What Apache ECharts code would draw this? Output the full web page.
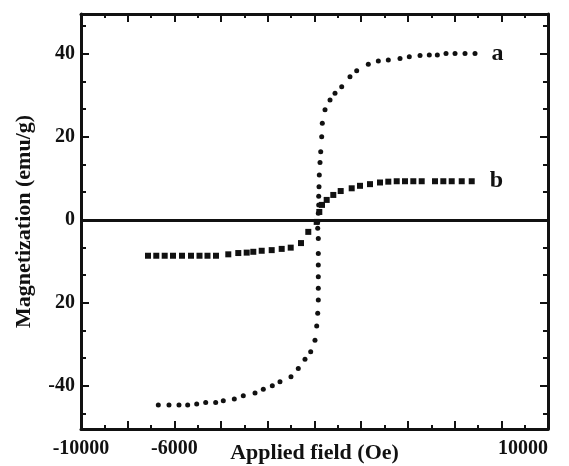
<!DOCTYPE html>
<html><head><meta charset="utf-8">
<script src="https://cdn.jsdelivr.net/npm/echarts@6/dist/echarts.min.js"></script>
<style>html,body{margin:0;padding:0;background:#fff}#c{width:569px;height:466px}</style>
</head><body><div id="c"></div>
<script>
// Curve a (circles)
const aField = [-6690,-6232,-5803,-5431,-5045,-4660,-4232,-3906,-3435,-3050,-2548,-2193,-1807,-1478,-1007,-694,-407,-163,21,94,137,163,163,163,163,163,163,137,137,163,180,180,193,206,236,266,308,334,450,664,878,1165,1520,1807,2304,2733,3161,3662,4060,4519,4917,5260,5632,6018,6446,6874];
const aMag = [-44.6,-44.6,-44.6,-44.6,-44.4,-44.0,-44.0,-43.6,-43.2,-42.4,-41.7,-40.8,-40.0,-39.0,-37.8,-35.8,-33.6,-31.8,-29.0,-25.6,-22.5,-19.3,-16.5,-13.7,-10.9,-8.1,-4.5,-2.0,-0.5,1.6,3.6,5.7,8.0,10.8,13.8,16.4,20.0,23.3,26.5,28.9,30.5,32.1,34.5,35.9,37.5,38.3,38.5,38.9,39.3,39.6,39.7,39.7,40.1,40.1,40.1,40.1];
// Curve b (squares)
const bField = [-7131,-6776,-6416,-6060,-5675,-5290,-4925,-4583,-4219,-3692,-3264,-2904,-2621,-2261,-1833,-1405,-1019,-578,-266,94,206,321,522,805,1122,1593,1949,2377,2805,3161,3521,3876,4232,4591,5161,5517,5876,6305,6733];
const bMag = [-8.65,-8.65,-8.65,-8.65,-8.65,-8.65,-8.65,-8.65,-8.65,-8.31,-8.0,-7.9,-7.7,-7.45,-7.3,-7.0,-6.7,-5.6,-2.9,-0.5,1.9,3.6,4.8,6.0,6.94,7.6,8.2,8.6,9.0,9.2,9.3,9.3,9.3,9.3,9.3,9.3,9.3,9.3,9.3];
const seriesNames = ['a', 'b'];
const xShownTicks = [-10000, -6000, 10000];
const yMajorTicks = [-40, -20, 0, 20, 40];
const yTickLabels = ['-40', '20', '0', '20', '40'];
const yMinorTicks = [-46.667, -33.333, -26.667, -13.333, -6.667, 6.667, 13.333, 26.667, 33.333, 46.667];
const xTitle = 'Applied field (Oe)';
const yTitle = 'Magnetization (emu/g)';

const FONT = '"Liberation Serif", "DejaVu Serif", serif';
const INK = '#111';
const YMIN = -50.4, YMAX = 49.6;

function pairs(xs, ys) { return xs.map((x, i) => [x, ys[i]]); }

const lineStyle = { color: INK, width: 3 };
const tickStyle = { color: INK, width: 2 };
const xCommon = {
  type: 'value', min: -10000, max: 10000, interval: 2000,
  axisLine: { show: true, onZero: false, lineStyle },
  axisTick: { show: true, inside: true, length: 8, lineStyle: tickStyle },
  minorTick: { show: true, splitNumber: 2, length: 4, lineStyle: tickStyle },
  splitLine: { show: false }, minorSplitLine: { show: false }
};
const yBase = {
  type: 'value', min: YMIN, max: YMAX,
  splitLine: { show: false }
};

const chart = echarts.init(document.getElementById('c'), null, { renderer: 'canvas' });
chart.setOption({
  animation: false,
  backgroundColor: '#fff',
  grid: { left: 81, right: 21, top: 14, bottom: 37, containLabel: false, outerBoundsMode: 'none' },
  xAxis: [
    Object.assign({}, xCommon, {
      position: 'bottom',
      name: xTitle, nameLocation: 'middle', nameGap: 13, nameMoveOverlap: false,
      nameTextStyle: { fontFamily: FONT, fontWeight: 'bold', fontSize: 22, color: INK, verticalAlign: 'top' },
      axisLabel: {
        show: true, margin: 10, hideOverlap: false, showMinLabel: true, showMaxLabel: true,
        alignMaxLabel: 'right',
        fontFamily: FONT, fontWeight: 'bold', fontSize: 20, color: INK,
        formatter: v => xShownTicks.indexOf(v) >= 0 ? String(v) : ''
      }
    }),
    Object.assign({}, xCommon, { position: 'top', axisLabel: { show: false } })
  ],
  yAxis: [
    Object.assign({}, yBase, {
      position: 'left',
      name: yTitle, nameLocation: 'middle', nameRotate: 90, nameGap: 46,
      nameTextStyle: { fontFamily: FONT, fontWeight: 'bold', fontSize: 22, color: INK },
      axisLine: { show: true, onZero: false, lineStyle },
      axisTick: { show: true, inside: true, length: 8, customValues: yMajorTicks, lineStyle: tickStyle },
      axisLabel: {
        show: true, margin: 6, customValues: yMajorTicks,
        fontFamily: FONT, fontWeight: 'bold', fontSize: 20, color: INK,
        formatter: v => { const i = yMajorTicks.indexOf(Math.round(v)); return i >= 0 ? yTickLabels[i] : ''; }
      }
    }),
    Object.assign({}, yBase, {
      position: 'left',
      axisLine: { show: false, onZero: false },
      axisTick: { show: true, inside: true, length: 5, customValues: yMinorTicks, lineStyle: tickStyle },
      axisLabel: { show: false }
    }),
    Object.assign({}, yBase, {
      position: 'right',
      axisLine: { show: true, onZero: false, lineStyle },
      axisTick: { show: true, inside: true, length: 8, customValues: yMajorTicks, lineStyle: tickStyle },
      axisLabel: { show: false }
    }),
    Object.assign({}, yBase, {
      position: 'right',
      axisLine: { show: false, onZero: false },
      axisTick: { show: true, inside: true, length: 5, customValues: yMinorTicks, lineStyle: tickStyle },
      axisLabel: { show: false }
    })
  ],
  series: [
    {
      name: seriesNames[0], type: 'scatter', xAxisIndex: 0, yAxisIndex: 0,
      symbol: 'circle', symbolSize: 5,
      itemStyle: { color: INK, opacity: 1 },
      data: pairs(aField, aMag),
      label: {
        show: true, position: 'right', distance: 14,
        fontFamily: FONT, fontWeight: 'bold', fontSize: 24, color: INK,
        formatter: p => p.dataIndex === aField.length - 1 ? seriesNames[0] : ''
      },
      markLine: {
        silent: true, symbol: 'none', label: { show: false },
        lineStyle: { color: INK, width: 3, type: 'solid', opacity: 1 },
        data: [{ yAxis: 0 }]
      },
      z: 3
    },
    {
      name: seriesNames[1], type: 'scatter', xAxisIndex: 0, yAxisIndex: 0,
      symbol: 'rect', symbolSize: 6,
      itemStyle: { color: INK, opacity: 1 },
      data: pairs(bField, bMag),
      label: {
        show: true, position: 'right', distance: 15,
        fontFamily: FONT, fontWeight: 'bold', fontSize: 24, color: INK,
        formatter: p => p.dataIndex === bField.length - 1 ? seriesNames[1] : ''
      },
      z: 3
    }
  ]
});
</script>
</body></html>
